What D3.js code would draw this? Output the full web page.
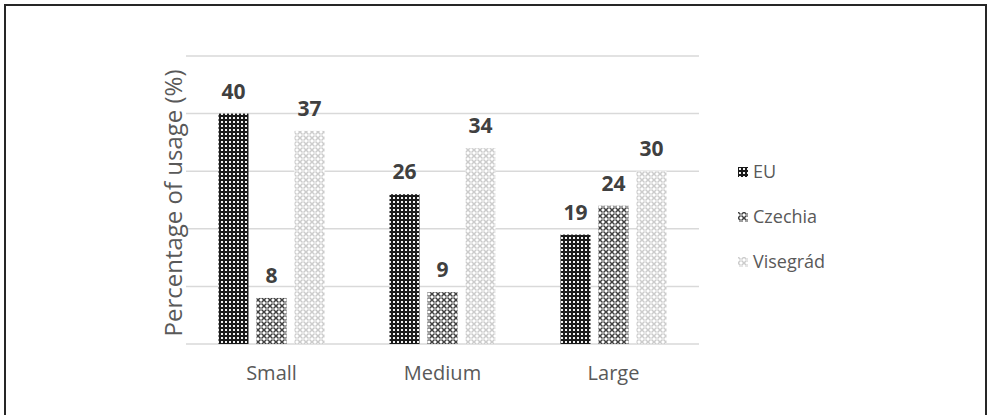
<!DOCTYPE html>
<html>
<head>
<meta charset="utf-8">
<script src="https://cdn.jsdelivr.net/npm/d3@7"></script>
<style>
  html, body { margin: 0; padding: 0; background: #fff; }
  svg { display: block; }
</style>
</head>
<body>
<svg id="chart" width="988" height="415"></svg>
<script>
// Company size groups and the share of usage for each region
const categories = ["Small", "Medium", "Large"];
const seriesNames = ["EU", "Czechia", "Visegrád"];
const euValues = [40, 26, 19];
const czechiaValues = [8, 9, 24];
const visegradValues = [37, 34, 30];
const yTicks = [0, 10, 20, 30, 40, 50];
const yTitle = "Percentage of usage (%)";

const seriesValues = [euValues, czechiaValues, visegradValues];
const patternIds = ["pat-eu", "pat-cz", "pat-v4"];

const svg = d3.select("#chart");
const font = "'Open Sans', 'DejaVu Sans', sans-serif";

// Fill patterns for the three series
const defs = svg.append("defs");

// EU: dark field with small light dots
const pEu = defs.append("pattern").attr("id", "pat-eu")
  .attr("patternUnits", "userSpaceOnUse").attr("width", 4).attr("height", 4);
pEu.append("rect").attr("width", 4).attr("height", 4).attr("fill", "#1a1a1a");
pEu.append("rect").attr("x", 1).attr("y", 1).attr("width", 2).attr("height", 2).attr("fill", "#f2f2f2");

// Lattice of small crosses, used dark for Czechia and light for Visegrád
function crossPattern(id, ink) {
  const p = defs.append("pattern").attr("id", id)
    .attr("patternUnits", "userSpaceOnUse").attr("width", 6).attr("height", 6);
  p.append("rect").attr("width", 6).attr("height", 6).attr("fill", "#fff");
  p.append("path")
    .attr("d", "M0,0L6,6M6,0L0,6")
    .attr("stroke", ink).attr("stroke-width", 1.5).attr("fill", "none");
  p.append("rect").attr("x", 2.3).attr("y", 2.3).attr("width", 1.4).attr("height", 1.4).attr("fill", "#fff");
}
crossPattern("pat-cz", "#404040");
crossPattern("pat-v4", "#cccccc");

// Outer frame
svg.append("rect")
  .attr("x", 5).attr("y", 5).attr("width", 981).attr("height", 420)
  .attr("fill", "none").attr("stroke", "#262626").attr("stroke-width", 2);

// Scales
const x0 = d3.scaleBand().domain(categories).range([186, 699]).paddingInner(0).paddingOuter(0);
const y = d3.scaleLinear().domain([0, 50]).range([344, 56]);
const barW = 30, barStep = 38;

// Horizontal gridlines
svg.append("g").selectAll("line").data(yTicks).join("line")
  .attr("x1", x0.range()[0]).attr("x2", x0.range()[1])
  .attr("y1", d => y(d)).attr("y2", d => y(d))
  .attr("stroke", "#d9d9d9").attr("stroke-width", 1.5);

// Category axis labels
const xAxis = d3.axisBottom(x0).tickSize(0).tickPadding(22);
const gx = svg.append("g").attr("transform", `translate(0,${y(0)})`).call(xAxis);
gx.select(".domain").remove();
gx.selectAll("text")
  .attr("font-family", font).attr("font-size", 20).attr("fill", "#595959");

// Bars and value labels
seriesValues.forEach((vals, s) => {
  const xPos = c => x0(c) + x0.bandwidth() / 2 - barW / 2 + (s - 1) * barStep;
  svg.append("g").selectAll("rect").data(categories).join("rect")
    .attr("x", c => xPos(c))
    .attr("y", (c, i) => y(vals[i]))
    .attr("width", barW)
    .attr("height", (c, i) => y(0) - y(vals[i]))
    .attr("fill", `url(#${patternIds[s]})`);
  svg.append("g").selectAll("text").data(categories).join("text")
    .attr("x", c => xPos(c) + barW / 2)
    .attr("y", (c, i) => y(vals[i]) - 15)
    .attr("text-anchor", "middle")
    .attr("font-family", font).attr("font-size", 21).attr("font-weight", 700)
    .attr("fill", "#404040")
    .text((c, i) => vals[i]);
});

// Y axis title
svg.append("text")
  .attr("transform", `translate(182,203) rotate(-90)`)
  .attr("text-anchor", "middle")
  .attr("font-family", font).attr("font-size", 24).attr("fill", "#595959")
  .text(yTitle);

// Legend
const legend = svg.append("g").selectAll("g").data(seriesNames).join("g")
  .attr("transform", (d, i) => `translate(738,${167 + i * 45})`);
legend.append("rect")
  .attr("width", 10).attr("height", 10)
  .attr("fill", (d, i) => `url(#${patternIds[i]})`);
legend.append("text")
  .attr("x", 15).attr("y", 11)
  .attr("font-family", font).attr("font-size", 18).attr("fill", "#595959")
  .text(d => d);
</script>
</body>
</html>
